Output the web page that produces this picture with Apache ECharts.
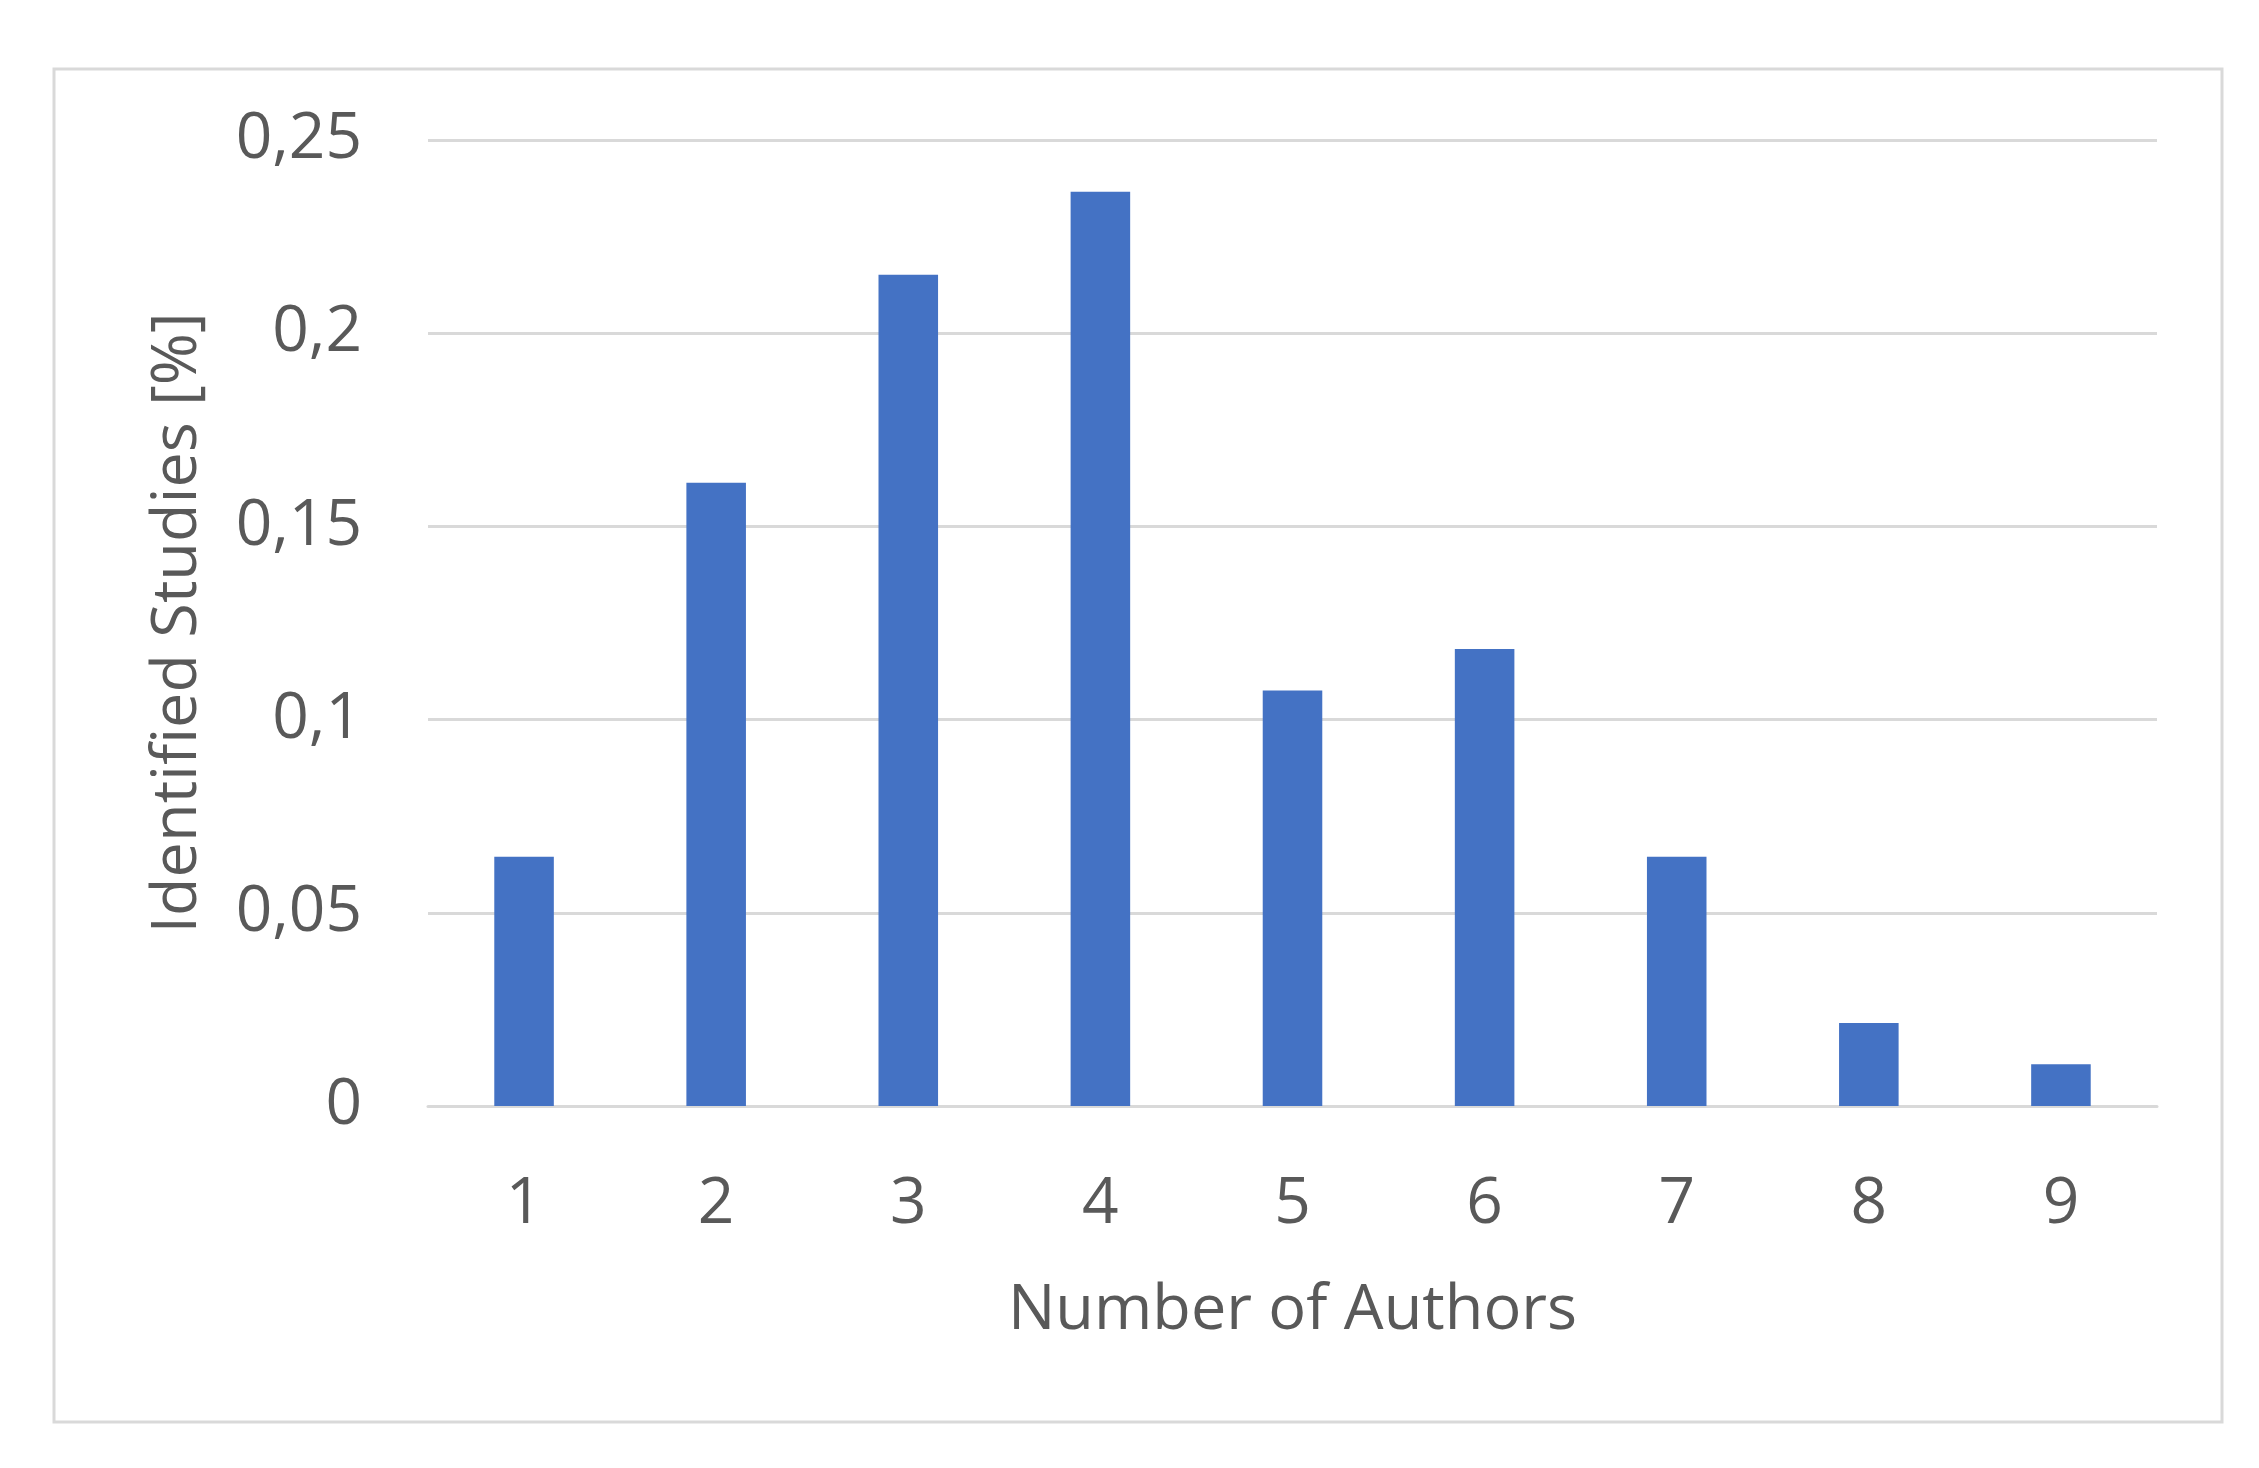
<!DOCTYPE html>
<html>
<head>
<meta charset="utf-8">
<title>Number of Authors</title>
<script src="https://cdn.jsdelivr.net/npm/echarts@6/dist/echarts.min.js"></script>
<style>
  html, body { margin: 0; padding: 0; background: #fff; }
  #chart { width: 2259px; height: 1468px; }
</style>
</head>
<body>
<div id="chart"></div>
<script>
// number of authors per study
var authors = ['1', '2', '3', '4', '5', '6', '7', '8', '9'];
// share of identified studies
var share = [0.0645, 0.1613, 0.2151, 0.2366, 0.1075, 0.1183, 0.0645, 0.0215, 0.0108];
var yTicks = [0, 0.05, 0.1, 0.15, 0.2, 0.25];

var textColor = '#595959';
var lineColor = '#d9d9d9';
var font = 'Open Sans';

var myChart = echarts.init(document.getElementById('chart'));

var option = {
    backgroundColor: '#fff',
    animation: false,
    graphic: [{
        type: 'rect',
        shape: { x: 54, y: 69, width: 2168, height: 1353 },
        style: { fill: 'none', stroke: lineColor, lineWidth: 3 }
    }],
    grid: {
        left: 428,
        right: 102,
        top: 140,
        bottom: 362
    },
    xAxis: {
        type: 'category',
        data: authors,
        name: 'Number of Authors',
        nameLocation: 'middle',
        nameGap: 174,
        nameTextStyle: { color: textColor, fontSize: 63, fontFamily: font },
        axisLine: { lineStyle: { color: lineColor, width: 3 } },
        axisTick: { show: false },
        axisLabel: { color: textColor, fontSize: 64, fontFamily: font, margin: 67 }
    },
    yAxis: {
        type: 'value',
        min: yTicks[0],
        max: yTicks[yTicks.length - 1],
        interval: 0.05,
        name: 'Identified Studies [%]',
        nameLocation: 'middle',
        nameGap: 218,
        nameTextStyle: { color: textColor, fontSize: 63, fontFamily: font },
        axisLine: { show: false },
        axisTick: { show: false },
        splitLine: { lineStyle: { color: lineColor, width: 3 } },
        axisLabel: {
            color: textColor,
            fontSize: 64,
            fontFamily: font,
            margin: 66,
            formatter: function (v) { return String(v).replace('.', ','); }
        }
    },
    series: [{
        type: 'bar',
        data: share,
        barWidth: '31%',
        itemStyle: { color: '#4472c4' }
    }]
};

myChart.setOption(option);
</script>
</body>
</html>
